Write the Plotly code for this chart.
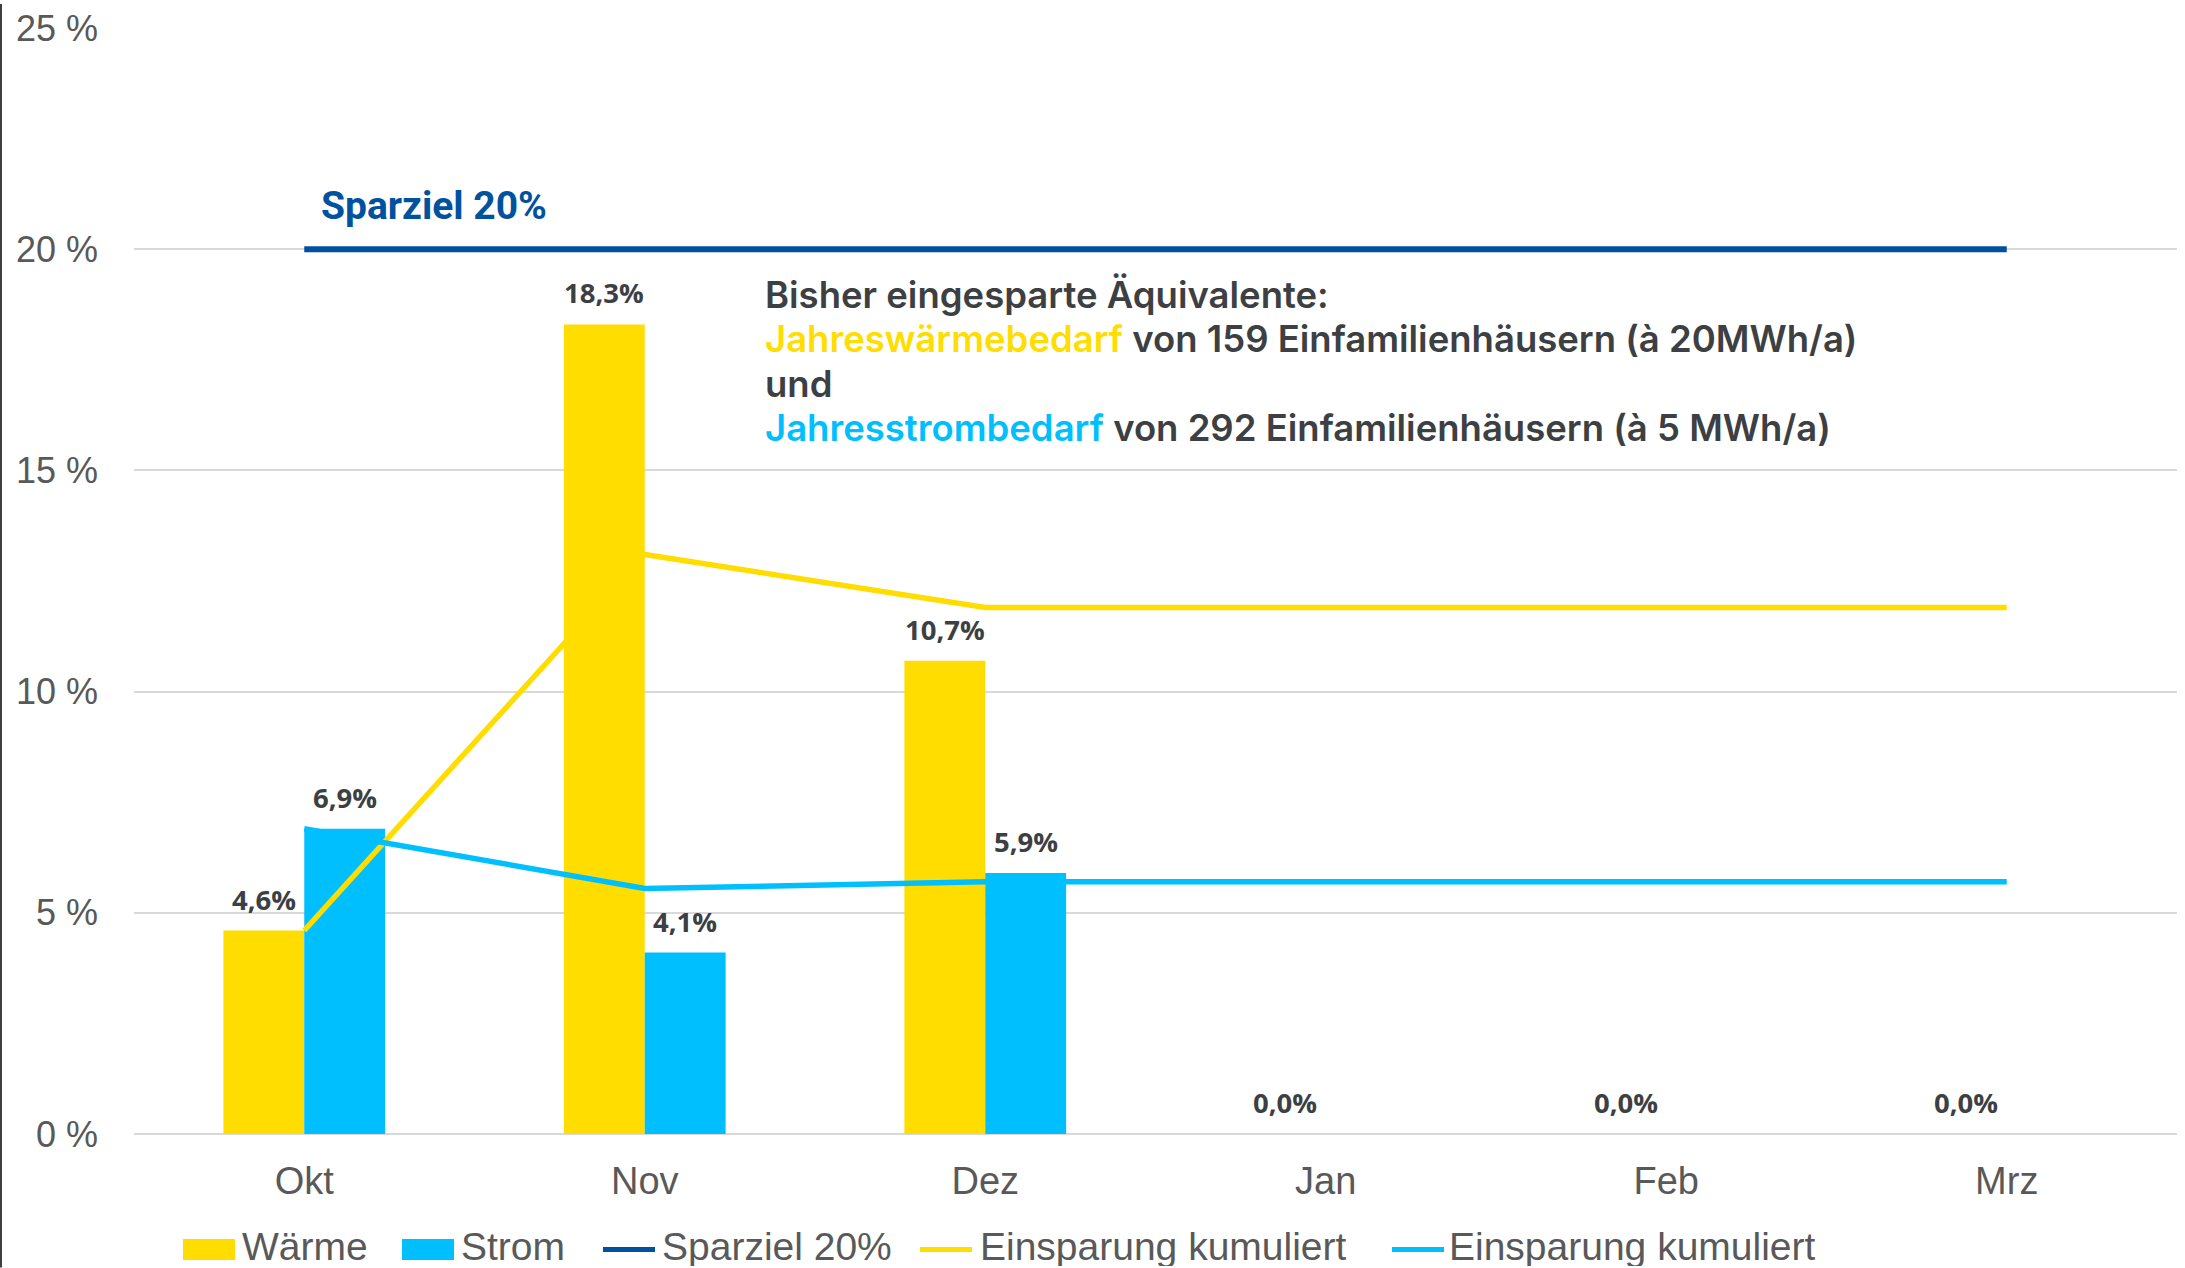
import plotly.graph_objects as go

months = ["Okt", "Nov", "Dez", "Jan", "Feb", "Mrz"]
waerme = [4.6, 18.3, 10.7, 0.0, 0.0, 0.0]
strom = [6.9, 4.1, 5.9, None, None, None]
sparziel = [20, 20, 20, 20, 20, 20]
kum_waerme = [4.6, 13.1, 11.9, 11.9, 11.9, 11.9]
kum_strom = [6.9, 5.55, 5.7, 5.7, 5.7, 5.7]
y_ticks = [0, 5, 10, 15, 20, 25]
y_ticktext = ["0 %", "5 %", "10 %", "15 %", "20 %", "25 %"]

YELLOW = "#FFDD00"
BLUE = "#00BFFF"
DARKBLUE = "#00529F"
TEXT = "#3C4043"
GREY = "#595959"
ARIAL = "Liberation Sans, Arial, sans-serif"

info_lines = [
    "Bisher eingesparte Äquivalente:",
    f"<span style='color:{YELLOW}'>Jahreswärmebedarf</span> von 159 Einfamilienhäusern (à 20MWh/a)",
    "und",
    f"<span style='color:{BLUE}'>Jahresstrombedarf</span> von 292 Einfamilienhäusern (à 5 MWh/a)",
]

W, H = 2185, 1268
ML, MR, MT, MB = 134, 8, 24, 134
BARGAP = 0.525
plot_w = W - ML - MR
plot_h = H - MT - MB


def px_x(px):
    return (px - ML) / plot_w


def px_y(py):
    return (H - MB - py) / plot_h


fig = go.Figure()
fig.add_trace(go.Bar(x=months, y=waerme, name="Wärme", marker_color=YELLOW,
                     marker_line_width=0))
fig.add_trace(go.Bar(x=months, y=strom, name="Strom", marker_color=BLUE,
                     marker_line_width=0))
fig.add_trace(go.Scatter(x=months, y=sparziel, name="Sparziel 20%", mode="lines",
                         line=dict(color=DARKBLUE, width=6)))
fig.add_trace(go.Scatter(x=months, y=kum_waerme, name="Einsparung kumuliert", mode="lines",
                         line=dict(color=YELLOW, width=5.5)))
fig.add_trace(go.Scatter(x=months, y=kum_strom, name="Einsparung kumuliert", mode="lines",
                         line=dict(color=BLUE, width=5.5)))

# data labels above bars
cat_w = plot_w / len(months)
bar_w = cat_w * (1 - BARGAP) / 2
annotations = []
for series, shift in ((waerme, -bar_w / 2), (strom, bar_w / 2)):
    for m, v in zip(months, series):
        if v is None:
            continue
        annotations.append(dict(
            x=m, y=v, xref="x", yref="y", xshift=shift, yshift=11,
            yanchor="bottom", showarrow=False,
            text=f"{v:.1f}".replace(".", ",") + "%",
            font=dict(family="Open Sans", size=27.5, color=TEXT, weight="bold")))

annotations.append(dict(
    x=months[0], y=sparziel[0], xref="x", yref="y", xanchor="left", yanchor="bottom",
    xshift=15, yshift=18, showarrow=False, text="<b>Sparziel 20%</b>",
    font=dict(family="Roboto", size=39, color=DARKBLUE)))

# info text block, one annotation per line
INFO_X, INFO_Y0, INFO_DY = 763, 292, 44.6
for i, line in enumerate(info_lines):
    annotations.append(dict(
        x=px_x(INFO_X), y=px_y(INFO_Y0 + i * INFO_DY), xref="paper", yref="paper",
        xanchor="left", yanchor="middle", align="left", showarrow=False, text=line,
        font=dict(family="Inter", size=36.5, color=TEXT, weight=600)))

# custom legend (symbol left edge, text left edge in pixels)
legend_pos = [(183, 240), (402, 459), (601, 660), (918, 978), (1390, 1447)]
LEG_Y = 1250
shapes = [dict(type="line", xref="paper", yref="paper",
               x0=px_x(1), x1=px_x(1), y0=px_y(H), y1=px_y(0),
               line=dict(color=TEXT, width=2))]
for tr, (sx, tx) in zip(fig.data, legend_pos):
    if tr.type == "bar":
        shapes.append(dict(type="rect", xref="paper", yref="paper",
                           x0=px_x(sx), x1=px_x(sx + 52), y0=px_y(LEG_Y - 10.5),
                           y1=px_y(LEG_Y + 10.5), fillcolor=tr.marker.color,
                           line=dict(width=0)))
    else:
        shapes.append(dict(type="line", xref="paper", yref="paper",
                           x0=px_x(sx + 2), x1=px_x(sx + 54), y0=px_y(LEG_Y), y1=px_y(LEG_Y),
                           line=dict(color=tr.line.color, width=5)))
    annotations.append(dict(
        x=px_x(tx), y=px_y(LEG_Y - 4), xref="paper", yref="paper", xanchor="left",
        yanchor="middle", height=40, valign="middle", showarrow=False, text=tr.name,
        font=dict(family=ARIAL, size=39, color=GREY)))

fig.update_layout(
    width=W, height=H,
    margin=dict(l=ML, r=MR, t=MT, b=MB),
    paper_bgcolor="white", plot_bgcolor="white",
    barmode="group", bargap=BARGAP, bargroupgap=0,
    font=dict(family=ARIAL, color=GREY),
    showlegend=False,
    annotations=annotations,
    shapes=shapes,
)
fig.update_xaxes(range=[-0.5, 5.5], showgrid=False, showline=False, zeroline=False,
                 tickfont=dict(family=ARIAL, size=38, color=GREY), ticks="",
                 ticklabelstandoff=21)
fig.update_yaxes(range=[0, 25], tickvals=y_ticks, ticktext=y_ticktext,
                 showgrid=True, gridcolor="#D9D9D9", gridwidth=2,
                 zeroline=True, zerolinecolor="#D9D9D9", zerolinewidth=2,
                 showline=False, tickfont=dict(family=ARIAL, size=36, color=GREY),
                 ticklabelstandoff=35)

fig.write_html("out.html", config={"displayModeBar": False},
               post_script="document.body.style.margin='0';")
